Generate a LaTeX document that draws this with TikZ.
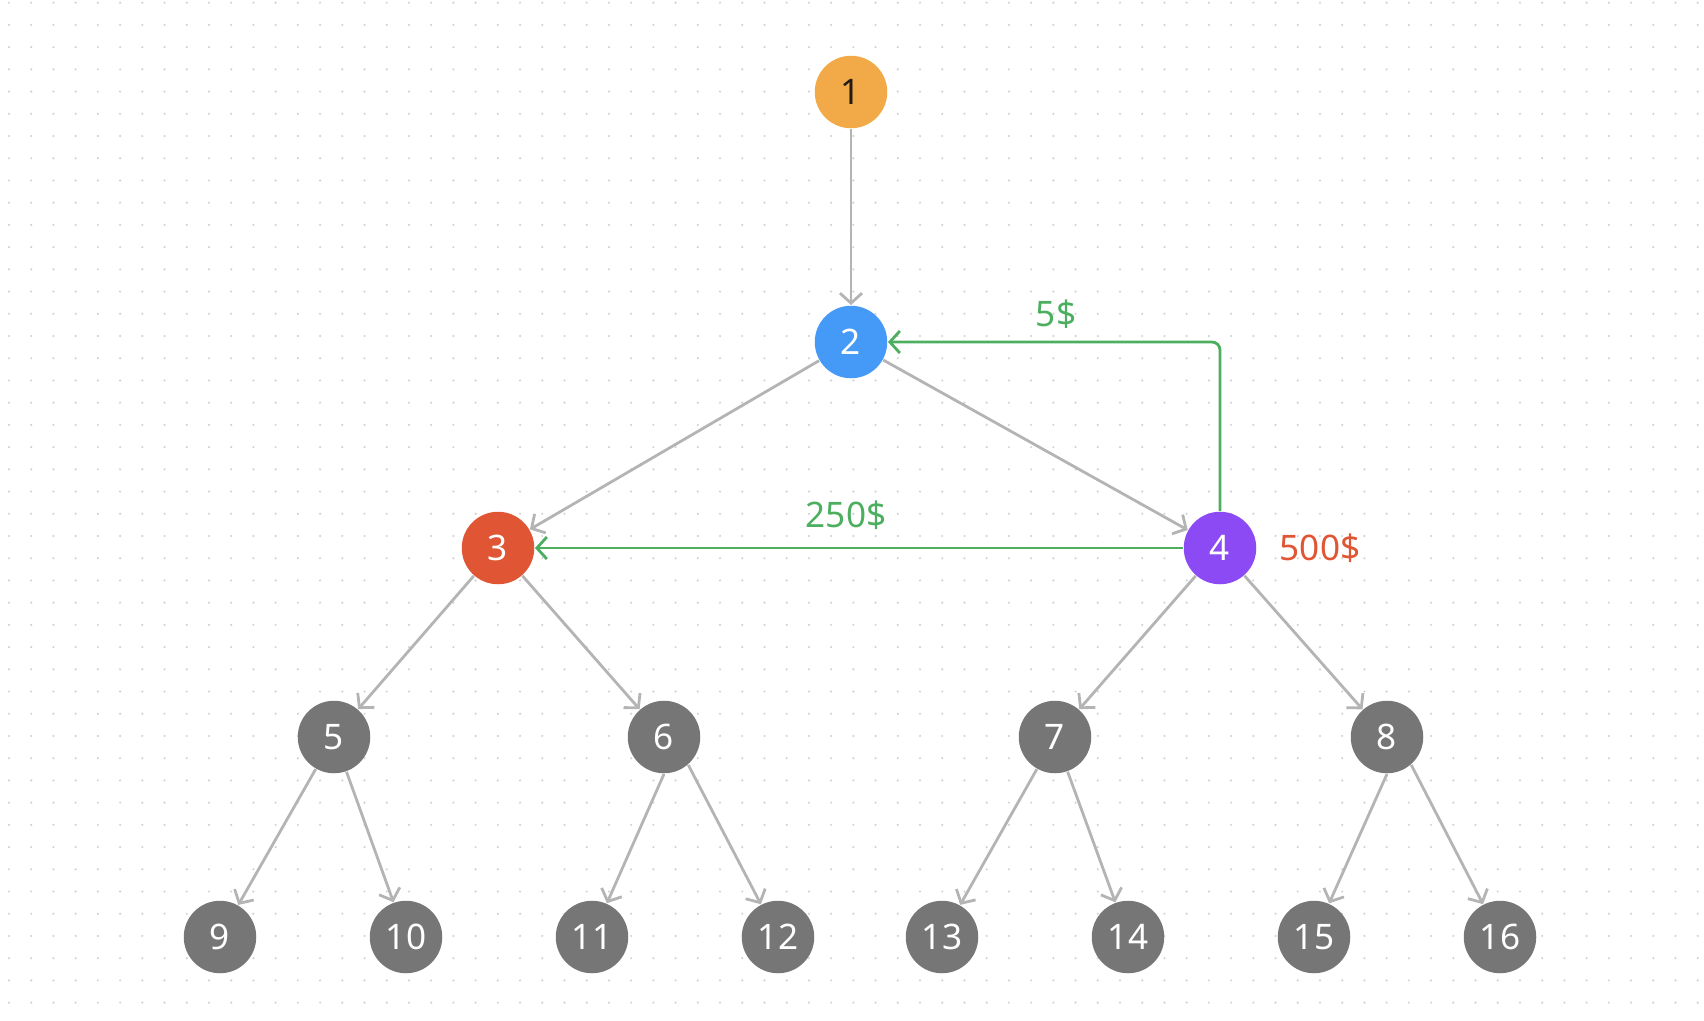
\documentclass[tikz,border=0pt]{standalone}
\usepackage{xcolor}
\usepackage{fontspec}
\setmainfont{Noto Sans}
\usepackage{tikz}
\usetikzlibrary{arrows.meta, positioning}
\definecolor{rootorange}{HTML}{F2A947}
\definecolor{rootink}{HTML}{221C14}
\definecolor{nodeblue}{HTML}{4599F7}
\definecolor{nodered}{HTML}{E05533}
\definecolor{nodepurple}{HTML}{8C4AF5}
\definecolor{nodegray}{HTML}{767676}
\definecolor{edgegray}{HTML}{B4B4B4}
\definecolor{edgegreen}{HTML}{4CAF60}
\definecolor{dotgray}{HTML}{D2D2D2}

\tikzset{
	vertex/.style={circle, minimum size=7.25mm, inner sep=0pt, text=white, font=\fontsize{10}{12}\selectfont},
	leaf/.style={vertex, fill=nodegray},
	edge/.style={draw=edgegray, line width=0.28mm, -{Straight Barb[length=1mm, width=2.2mm]}},
	paid/.style={draw=edgegreen, line width=0.28mm, rounded corners=0.8mm, -{Straight Barb[length=1mm, width=2.2mm]}},
	cost/.style={font=\fontsize{10}{12}\selectfont, inner sep=0pt}
}

\begin{document}
\begin{tikzpicture}[x=0.1mm, y=-0.1mm]
		\useasboundingbox (0,0) rectangle (1704,1020);
		% dotted background
		\foreach \i in {0,...,76}
			\foreach \j in {0,...,45}
				\fill[dotgray] (9+22.22*\i, 2.7+22.22*\j) circle (0.12mm);
		
		\node[vertex, fill=rootorange, text=rootink] (n1) at (851,92) {1};
		\node[vertex, fill=nodeblue] (n2) at (851,342) {2};
		\node[vertex, fill=nodered] (n3) at (498,548) {3};
		\node[vertex, fill=nodepurple] (n4) at (1220,548) {4};
		
		\foreach \k/\x in {5/334, 6/664, 7/1055, 8/1387}
			\node[leaf] (n\k) at (\x,737) {\k};
		\foreach \k/\x in {9/220, 10/406, 11/592, 12/778, 13/942, 14/1128, 15/1314, 16/1500}
			\node[leaf] (n\k) at (\x,937) {\k};
		
		\foreach \a/\b in {1/2, 2/3, 2/4, 3/5, 3/6, 4/7, 4/8, 5/9, 5/10, 7/13, 7/14}
			\draw[edge] (n\a) -- (n\b);
		% these two leave 6 and 8 from fixed points
		\draw[edge] (n6.south) -- (n11);
		\draw[edge] (n6.-49) -- (n12);
		\draw[edge] (n8.south) -- (n15);
		\draw[edge] (n8.-49) -- (n16);
		
		\draw[paid] (n4) |- (n2);
		\draw[paid] (n4) -- (n3);
		
		\node[cost, text=edgegreen] (fee) at (1056,314) {5\$};
		\node[cost, text=edgegreen] (bribe) at (846,515) {250\$};
		\node[cost, text=nodered] (price) at (1320,548) {500\$};
\end{tikzpicture}
\end{document}
